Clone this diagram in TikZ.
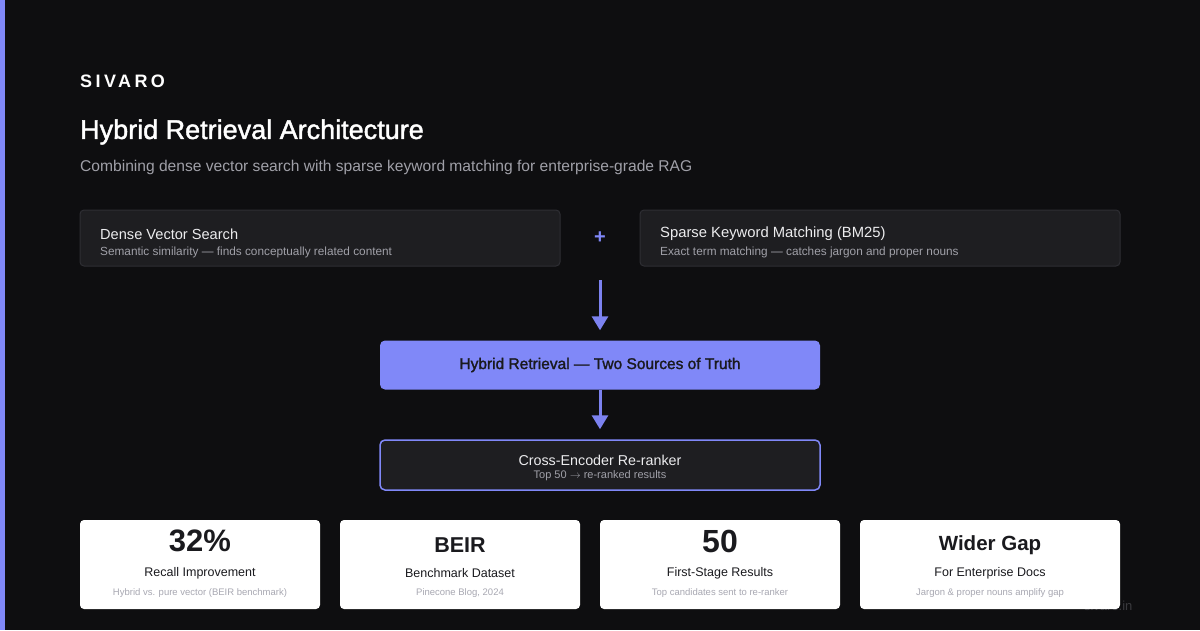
\documentclass[tikz,border=0pt]{standalone}
\usepackage{fontspec}
\setmainfont{Liberation Sans}
\newfontfamily\brandfont[LetterSpace=19]{Liberation Sans}
\newfontfamily\mediumfont[FakeBold=1.6, Ligatures=TeX]{Liberation Sans}
\usepackage{tikz}
\usepackage{xcolor}
\usetikzlibrary{arrows.meta}

\definecolor{bgdark}{HTML}{0E0E10}
\definecolor{accent}{HTML}{8088F8}
\definecolor{arrowc}{HTML}{7C82F0}
\definecolor{boxfill}{HTML}{1E1E21}
\definecolor{boxline}{HTML}{2E2E33}
\definecolor{softwhite}{HTML}{ECECEE}
\definecolor{subgray}{HTML}{A0A0A8}
\definecolor{notegray}{HTML}{A8A8B2}
\definecolor{inkdark}{HTML}{1A1A1E}
\definecolor{watermark}{HTML}{3A3A3E}

\tikzset{
  panel/.style={draw=boxline, fill=boxfill, line width=1pt, rounded corners=4pt, inner sep=0pt},
  statcard/.style={fill=white, rounded corners=4pt, minimum width=240pt, minimum height=89pt, inner sep=0pt},
  flow/.style={draw=arrowc, line width=3pt, -{Triangle[width=16pt,length=14pt]}},
  lefttext/.style={anchor=west, inner sep=0pt},
}

\begin{document}
\begin{tikzpicture}[x=1pt,y=-1pt]

    \useasboundingbox (0,0) rectangle (1200,630);
    \fill[bgdark] (0,0) rectangle (1200,630);
    \fill[accent] (0,0) rectangle (5,630);

    % Header
    \node[lefttext, text=white, font=\brandfont\bfseries\fontsize{18}{20}\selectfont] (brand) at (80,81) {SIVARO};
    \node[lefttext, text=white, font=\mediumfont\fontsize{27}{30}\selectfont] (title) at (80,132) {Hybrid Retrieval Architecture};
    \node[lefttext, text=subgray, font=\fontsize{15.6}{18}\selectfont] (subtitle) at (80,167) {Combining dense vector search with sparse keyword matching for enterprise-grade RAG};

    % Two retrieval sources
    \node[panel, minimum width=480pt, minimum height=56pt] (dense) at (320,238) {};
    \node[lefttext, text=softwhite, font=\fontsize{14.6}{16}\selectfont] (denseT) at (100,234) {Dense Vector Search};
    \node[lefttext, text=subgray, font=\fontsize{11.8}{13}\selectfont] (denseS) at (100,252) {Semantic similarity --- finds conceptually related content};

    \node[text=accent, font=\bfseries\fontsize{20}{22}\selectfont] (plus) at (600,238) {+};

    \node[panel, minimum width=480pt, minimum height=56pt] (sparse) at (880,238) {};
    \node[lefttext, text=softwhite, font=\fontsize{14.8}{16}\selectfont] (sparseT) at (660,234) {Sparse Keyword Matching (BM25)};
    \node[lefttext, text=subgray, font=\fontsize{11.8}{13}\selectfont] (sparseS) at (660,252) {Exact term matching --- catches jargon and proper nouns};

    % Pipeline
    \coordinate (merge) at (600,280);
    \node[fill=accent, rounded corners=5pt, minimum width=440pt, minimum height=49pt, inner sep=0pt,
          text=inkdark, font=\mediumfont\fontsize{15.5}{18}\selectfont] (hybrid) at (600,365) {Hybrid Retrieval --- Two Sources of Truth};
    \node[draw=accent, fill=boxfill, line width=1.5pt, rounded corners=5pt, minimum width=440pt, minimum height=50pt, inner sep=0pt] (rerank) at (600,465) {};
    \node[text=softwhite, font=\fontsize{14.3}{16}\selectfont] (rerankT) at (600,460) {Cross-Encoder Re-ranker};
    \node[text=subgray, font=\fontsize{11}{12}\selectfont] (rerankS) at (600,476) {Top 50 $\rightarrow$ re-ranked results};

    \draw[flow, shorten >=10pt] (merge) -- (hybrid.north);
    \draw[flow, shorten >=10pt] (hybrid.south) -- (rerank.north);

    % Watermark (sits behind the last card)
    \node[anchor=east, text=watermark, font=\fontsize{13}{15}\selectfont] (site) at (1136,606) {sivaro.in};

    % Stat cards
    \node[statcard] (c1) at (200,564.5) {};
    \node[statcard] (c2) at (460,564.5) {};
    \node[statcard] (c3) at (720,564.5) {};
    \node[statcard, minimum width=260pt] (c4) at (990,564.5) {};

    \node[text=inkdark, font=\bfseries\fontsize{31}{34}\selectfont] (n1) at (200,541) {32\%};
    \node[text=inkdark, font=\fontsize{12.5}{15}\selectfont] (l1) at (200,573) {Recall Improvement};
    \node[text=notegray, font=\fontsize{9.5}{11}\selectfont] (s1) at (200,593) {Hybrid vs. pure vector (BEIR benchmark)};

    \node[text=inkdark, font=\bfseries\fontsize{21.5}{24}\selectfont] (n2) at (460,545) {BEIR};
    \node[text=inkdark, font=\fontsize{12.5}{15}\selectfont] (l2) at (460,573) {Benchmark Dataset};
    \node[text=notegray, font=\fontsize{9.5}{11}\selectfont] (s2) at (460,593) {Pinecone Blog, 2024};

    \node[text=inkdark, font=\bfseries\fontsize{32}{34}\selectfont] (n3) at (720,541) {50};
    \node[text=inkdark, font=\fontsize{12.5}{15}\selectfont] (l3) at (720,573) {First-Stage Results};
    \node[text=notegray, font=\fontsize{9.5}{11}\selectfont] (s3) at (720,593) {Top candidates sent to re-ranker};

    \node[text=inkdark, font=\bfseries\fontsize{20.5}{24}\selectfont] (n4) at (990,545) {Wider Gap};
    \node[text=inkdark, font=\fontsize{12.5}{15}\selectfont] (l4) at (990,573) {For Enterprise Docs};
    \node[text=notegray, font=\fontsize{9.5}{11}\selectfont] (s4) at (990,593) {Jargon \& proper nouns amplify gap};

\end{tikzpicture}
\end{document}
